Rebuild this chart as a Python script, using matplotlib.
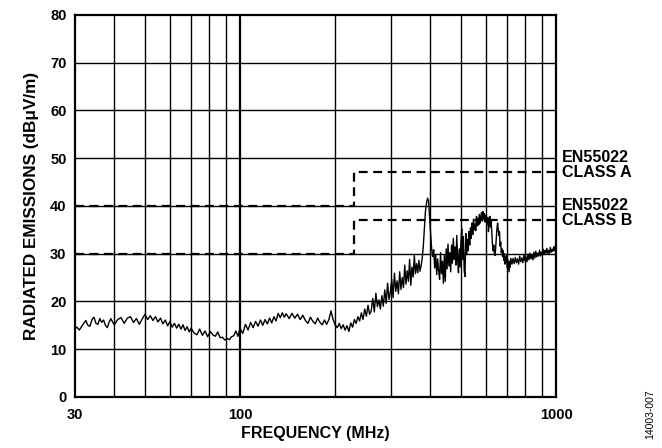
import numpy as np
import matplotlib.pyplot as plt
from matplotlib.ticker import FixedLocator, NullFormatter

plt.rcParams['font.family'] = ['Liberation Sans', 'DejaVu Sans']
plt.rcParams['font.weight'] = 'bold'

# measured spectrum (MHz, dBuV/m)
freq = [30, 30.5, 31, 31.5, 32, 32.5, 33, 33.5, 34, 34.5, 35, 35.5, 36, 36.5, 37, 37.5, 38, 38.5, 39, 39.5,
        40, 41, 42, 43, 44, 45, 46, 47, 48, 49, 50, 51, 52, 53, 54, 55, 56, 57, 58, 59,
        60, 61, 62, 63, 64, 65, 66, 67, 68, 69, 70, 71.5, 73, 74.5, 76, 77.5, 79, 80.5, 82, 83.5,
        85, 86.5, 88, 89.5, 91, 92.5, 94, 95.5, 97, 98.5, 100,
        102, 104, 106, 108, 110, 112, 114, 116, 118, 120, 122, 124, 126, 128, 130, 132, 134, 136, 138, 140,
        143, 146, 149, 152, 155, 158, 161, 164, 167, 170, 173, 176, 179, 182, 185, 188, 191, 194, 197, 200,
        203, 206, 209, 212, 215, 218, 221, 224, 227, 230,
        233, 236, 239, 242, 245, 248, 251, 254, 257, 260, 263, 266, 269, 272, 275, 278, 281, 284, 287, 290,
        293, 296, 299, 302, 305, 308, 311, 314, 317, 320, 323, 326, 329, 332, 335, 338, 341, 344, 347, 350,
        353, 356, 359, 362, 365, 368, 371, 374, 377, 380, 383, 386, 389, 392, 395, 398, 401, 404, 407, 410,
        413, 416, 419, 422, 425, 428, 431, 434, 437, 440, 443, 446, 449, 452, 455, 458, 461, 464, 467, 470,
        473, 476, 479, 482, 485, 488, 491, 494, 497, 500, 503, 506, 509, 512, 515, 518, 521, 524, 527, 530,
        533, 536, 539, 542, 545, 548, 551, 554, 557, 560, 563, 566, 569, 572, 575, 578, 581, 584, 587, 590,
        593, 596, 599, 602, 605, 608, 611, 614, 617, 620, 623, 626, 629, 632, 635, 638, 641, 644, 647, 650,
        653, 656, 659, 662, 665, 668, 671, 674, 677, 680, 683, 686, 689, 692, 695, 698, 701, 704, 707, 710,
        713, 716, 719, 725, 731, 737, 743, 749, 755, 761, 767, 773, 779, 785, 791, 797, 803, 809, 815, 821,
        827, 833, 839, 845, 851, 857, 863, 869, 875, 881, 887, 893, 899, 905, 911, 917, 923, 929, 935, 941,
        947, 953, 959, 965, 971, 977, 983, 989, 995, 1000]
level = [14.3, 14.6, 14.0, 14.7, 15.4, 16.0, 15.0, 14.8, 16.2, 16.7, 15.4, 15.2, 16.4, 15.6, 16.1, 15.0, 14.5, 15.6, 16.4, 15.7,
         15.1, 16.2, 16.6, 15.4, 16.5, 16.8, 15.6, 16.4, 15.2, 16.3, 17.3, 16.2, 17.0, 16.0, 16.8, 15.7, 16.5, 15.3, 16.1, 14.9,
         15.8, 14.6, 15.4, 14.4, 15.2, 14.2, 15.1, 13.9, 14.7, 13.6, 14.4, 13.4, 13.0, 14.2, 12.9, 13.8, 12.6, 13.7, 13.0, 12.7,
         13.6, 12.4, 12.5, 11.9, 12.2, 12.0, 12.6, 12.8, 13.8, 12.7, 14.4,
         13.3, 15.2, 14.0, 15.6, 14.5, 15.8, 14.8, 16.1, 15.0, 16.2, 15.3, 16.5, 15.5, 16.8, 15.9, 17.5, 16.6, 17.6, 16.7, 17.4,
         16.4, 17.5, 16.5, 17.3, 16.2, 17.1, 16.0, 15.4, 16.7, 15.8, 15.3, 16.5, 15.6, 15.1, 16.1, 15.2, 16.2, 18.0, 16.2, 15.1,
         14.5, 15.4, 14.3, 15.1, 14.0, 14.9, 13.7, 15.5, 14.6, 16.2,
         15.4, 16.8, 15.9, 17.6, 16.2, 18.4, 16.9, 19.2, 17.3, 18.0, 20.6, 17.8, 21.7, 18.9, 20.3, 18.4, 21.2, 19.0, 22.4, 19.6,
         23.8, 20.4, 22.0, 24.6, 20.8, 25.9, 22.1, 24.3, 21.6, 26.2, 22.5, 25.0, 22.9, 27.6, 23.6, 26.4, 24.2, 28.8, 23.4, 27.2,
         25.1, 29.6, 25.8, 27.9, 26.0, 28.6, 26.3, 27.4, 29.0, 31.5, 35.0, 38.8, 40.6, 41.6, 41.0, 37.5, 34.0, 31.0, 29.4, 30.8,
         27.0, 29.8, 25.6, 28.9, 26.4, 24.6, 30.2, 25.8, 28.4, 23.8, 29.6, 24.2, 31.0, 26.8, 32.0, 27.4, 30.2, 26.2, 31.8, 28.0,
         33.2, 28.8, 31.4, 27.6, 33.8, 29.2, 26.0, 31.0, 27.2, 32.6, 35.2, 28.8, 33.6, 26.4, 25.2, 34.2, 29.8, 33.0, 30.6, 34.6,
         31.8, 35.4, 33.2, 36.4, 34.0, 37.2, 35.0, 36.2, 34.8, 37.8, 35.8, 37.4, 36.0, 38.2, 36.4, 37.6, 38.6, 36.8, 38.8, 37.2,
         38.4, 36.6, 38.0, 37.4, 36.2, 37.6, 34.6, 36.4, 37.8, 35.6, 36.8, 34.2, 32.0, 30.6, 31.8, 30.0, 29.6, 31.2, 33.4, 35.2,
         36.4, 35.0, 33.8, 34.6, 31.6, 32.4, 30.2, 31.0, 29.4, 30.6, 28.6, 30.0, 27.8, 29.4, 28.2, 29.6, 27.0, 28.8, 27.6, 26.2,
         28.4, 27.2, 29.0, 27.8, 29.0, 27.9, 29.2, 28.1, 28.9, 27.8, 29.5, 28.3, 29.1, 28.1, 29.7, 28.5, 29.3, 28.3, 29.9, 28.7,
         30.1, 28.9, 29.7, 28.7, 30.3, 29.1, 30.5, 29.3, 30.1, 29.5, 30.7, 29.5, 30.3, 29.7, 30.9, 29.9, 30.7, 30.1, 31.1, 29.9,
         30.7, 30.1, 31.3, 30.3, 30.9, 30.5, 31.4, 30.6, 31.7, 31.3]

# EN55022 limits (step at 230 MHz)
limit_freq = [30, 230, 230, 1000]
class_a = [40, 40, 47, 47]
class_b = [30, 30, 37, 37]

x_ticks = [30, 100, 1000]
y_ticks = [0, 10, 20, 30, 40, 50, 60, 70, 80]
x_grid = [40, 50, 60, 70, 80, 90, 200, 300, 400, 500, 600, 700, 800, 900]

fig = plt.figure(figsize=(6.62, 4.48), dpi=100)
ax = fig.add_axes([0.113, 0.114, 0.727, 0.853])

ax.set_xscale('log')
ax.set_xlim(30, 1000)
ax.set_ylim(0, 80)

for g in x_grid:
    ax.axvline(g, color='black', lw=1.0, zorder=1)
ax.axvline(100, color='black', lw=1.6, zorder=1)
for g in y_ticks[1:-1]:
    ax.axhline(g, color='black', lw=1.0, zorder=1)

ax.plot(limit_freq, class_a, color='black', lw=1.6, ls=(0, (4, 2.5)), zorder=2)
ax.plot(limit_freq, class_b, color='black', lw=1.6, ls=(0, (4, 2.5)), zorder=2)
ax.plot(freq, level, color='black', lw=1.0, zorder=3)

ax.xaxis.set_major_locator(FixedLocator(x_ticks))
ax.xaxis.set_minor_locator(FixedLocator([]))
ax.xaxis.set_minor_formatter(NullFormatter())
ax.set_xticklabels([str(t) for t in x_ticks])
ax.set_yticks(y_ticks)
ax.tick_params(axis='both', length=0, labelsize=10.5)
ax.tick_params(axis='x', pad=8)
ax.tick_params(axis='y', pad=6)

for s in ax.spines.values():
    s.set_linewidth(1.6)

ax.set_xlabel('FREQUENCY (MHz)', fontsize=11.5, fontweight='bold', labelpad=3)
ax.set_ylabel('RADIATED EMISSIONS (dBμV/m)', fontsize=12.3, fontweight='bold', labelpad=8)

trans = ax.get_yaxis_transform()
for name, val in [('CLASS A', 47), ('CLASS B', 37)]:
    ax.text(1.012, val + 3.1, 'EN55022', transform=trans, fontsize=11.5,
            fontweight='bold', va='center', ha='left')
    ax.text(1.012, val, name, transform=trans, fontsize=11.5,
            fontweight='bold', va='center', ha='left')

fig.text(0.982, 0.02, '14003-007', rotation=90, fontsize=7.5, fontweight='normal',
         ha='center', va='bottom')

fig.savefig('out.png', dpi=100)
